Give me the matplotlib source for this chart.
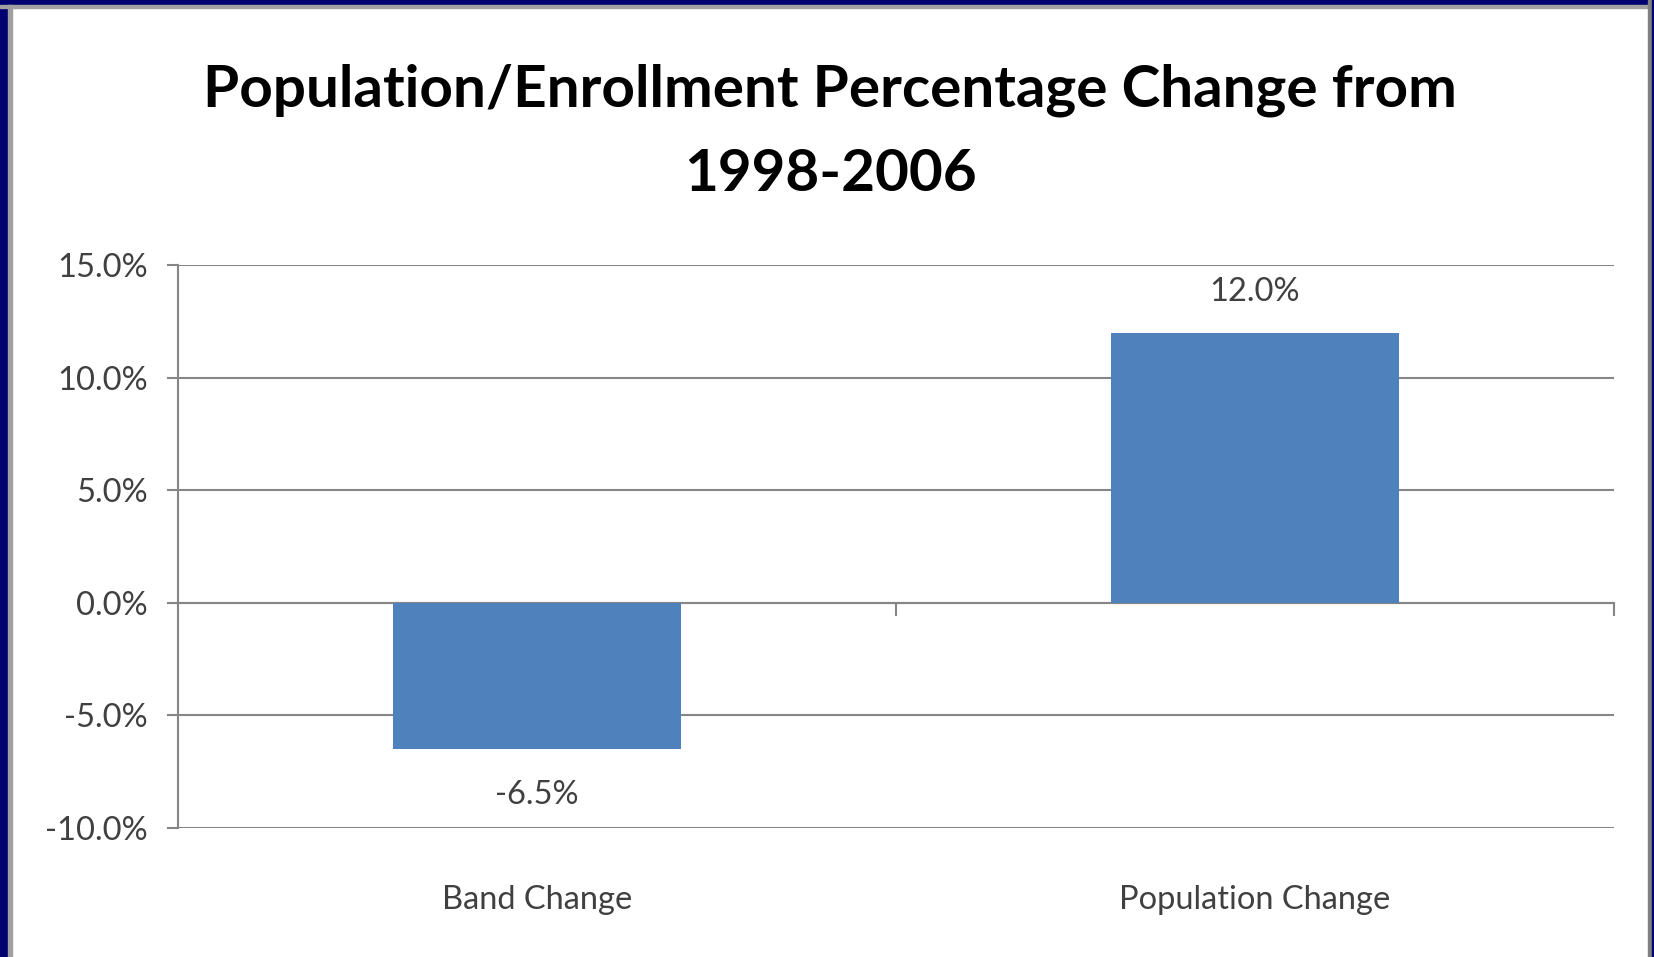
import matplotlib
matplotlib.use("Agg")
import matplotlib.pyplot as plt
from matplotlib.patches import Rectangle
from matplotlib.transforms import blended_transform_factory
from matplotlib.ticker import FuncFormatter

categories = ["Band Change", "Population Change"]
values = [-6.5, 12.0]
value_labels = ["-6.5%", "12.0%"]
yticks = [-10, -5, 0, 5, 10, 15]
title = "Population/Enrollment Percentage Change from\n1998-2006"

W, H = 1654, 957
fig = plt.figure(figsize=(W / 100, H / 100), dpi=100)
fig.patch.set_facecolor("white")

# frame (navy border on left and top, gray inner lines)
fig.patches.append(Rectangle((0, 0), 8 / W, 1, transform=fig.transFigure, color="#000070", zorder=0))
fig.patches.append(Rectangle((0, 1 - 5 / H), 1, 5 / H, transform=fig.transFigure, color="#000070", zorder=0))
fig.patches.append(Rectangle((8 / W, 0), 4 / W, 1 - 5 / H, transform=fig.transFigure, color="#a0a0a0", zorder=0))
fig.patches.append(Rectangle((0, 1 - 8 / H), 1, 3 / H, transform=fig.transFigure, color="#a0a0a0", zorder=0))
fig.patches.append(Rectangle((1648 / W, 0), 4 / W, 1, transform=fig.transFigure, color="#808080", zorder=0))
fig.patches.append(Rectangle((1652 / W, 0), 2 / W, 1, transform=fig.transFigure, color="#000070", zorder=0))

left, right = 178 / W, 1614 / W
bottom, top = (H - 828) / H, (H - 265) / H
ax = fig.add_axes([left, bottom, right - left, top - bottom])

font = "Lato"
gray = "#868686"
txt = "#404040"

x = list(range(len(categories)))
ax.bar(x, values, width=0.4, color="#4F81BD", zorder=3)
ax.set_xlim(-0.5, len(categories) - 0.5)
ax.set_ylim(min(yticks), max(yticks))

ax.set_yticks(yticks)
ax.yaxis.set_major_formatter(FuncFormatter(lambda v, p: f"{v:.1f}%"))
for lab in ax.get_yticklabels():
    lab.set_fontfamily(font)
    lab.set_fontsize(23.5)
    lab.set_color(txt)
ax.tick_params(axis="y", length=8, width=1.5, color=gray, pad=14)

ax.yaxis.grid(True, color=gray, linewidth=1.5, zorder=1)
ax.set_axisbelow(True)

for s in ["top", "right"]:
    ax.spines[s].set_visible(False)
ax.spines["left"].set_color(gray)
ax.spines["left"].set_linewidth(1.5)
ax.spines["bottom"].set_position(("data", 0))
ax.spines["bottom"].set_color(gray)
ax.spines["bottom"].set_linewidth(1.5)

ax.set_xticks([i + 0.5 for i in x])
ax.set_xticklabels([])
ax.tick_params(axis="x", length=9, width=1.5, color=gray, direction="out")

trans = blended_transform_factory(ax.transData, ax.transAxes)
for i, c in enumerate(categories):
    ax.annotate(c, (i, 0), xycoords=trans, xytext=(0, -52), textcoords="offset points",
                ha="center", va="center", fontfamily=font, fontsize=23.5, color=txt)

for i, (v, l) in enumerate(zip(values, value_labels)):
    off = 29 if v >= 0 else -33
    ax.annotate(l, (i, v), xytext=(0, off), textcoords="offset points",
                ha="center", va="center", fontfamily=font, fontsize=23.5, color=txt)

fig.text(830 / W, 1 - 132 / H, title, ha="center", va="center", fontfamily=font,
         fontweight="bold", fontsize=42, color="black", linespacing=1.72)

fig.savefig("out.png", dpi=100)
